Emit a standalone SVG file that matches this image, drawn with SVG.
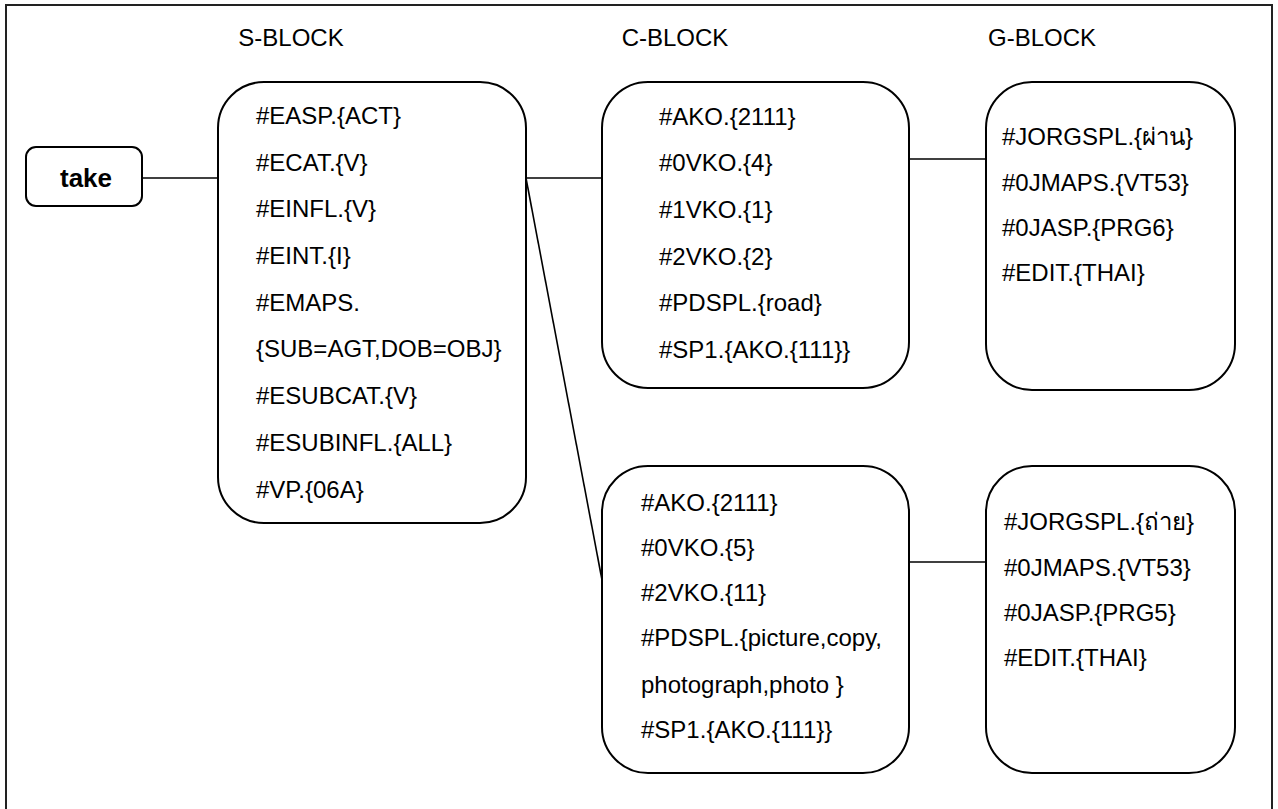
<svg xmlns="http://www.w3.org/2000/svg" width="1278" height="809" viewBox="0 0 1278 809">
<style>
  .frame{fill:#fff;stroke:#222;stroke-width:2}
  .box{fill:#fff;stroke:#000;stroke-width:2}
  .conn{stroke:#000;stroke-width:1.6;fill:none}
  text{font-family:"Liberation Sans",Arial,"Noto Sans","DejaVu Sans",sans-serif;font-size:24px;fill:#000}
  .bold{font-weight:bold;font-size:26px}
  .hdr{text-anchor:middle}
</style>
<rect class="frame" x="6" y="5" width="1266" height="830"/>
<g id="headers">
  <text class="hdr" x="291" y="46">S-BLOCK</text>
  <text class="hdr" x="675" y="46">C-BLOCK</text>
  <text class="hdr" x="1042" y="46">G-BLOCK</text>
</g>
<g id="connectors">
  <line class="conn" x1="142" y1="178" x2="218" y2="178"/>
  <line class="conn" x1="526" y1="178" x2="602" y2="178"/>
  <line class="conn" x1="526" y1="178" x2="602" y2="580"/>
  <line class="conn" x1="909" y1="159" x2="986" y2="159"/>
  <line class="conn" x1="909" y1="562" x2="986" y2="562"/>
</g>
<g id="take">
  <rect class="box" x="26" y="147" width="116" height="59" rx="10"/>
  <text class="bold" x="86" y="187" text-anchor="middle">take</text>
</g>
<g id="s-block">
  <rect class="box" x="218" y="82" width="308" height="441" rx="46"/>
  <text x="256" y="124">#EASP.{ACT}</text>
  <text x="256" y="171">#ECAT.{V}</text>
  <text x="256" y="217">#EINFL.{V}</text>
  <text x="256" y="264">#EINT.{I}</text>
  <text x="256" y="311">#EMAPS.</text>
  <text x="256" y="357">{SUB=AGT,DOB=OBJ}</text>
  <text x="256" y="404">#ESUBCAT.{V}</text>
  <text x="256" y="451">#ESUBINFL.{ALL}</text>
  <text x="256" y="498">#VP.{06A}</text>
</g>
<g id="c-block-1">
  <rect class="box" x="602" y="82" width="307" height="306" rx="46"/>
  <text x="659" y="125">#AKO.{2111}</text>
  <text x="659" y="171">#0VKO.{4}</text>
  <text x="659" y="218">#1VKO.{1}</text>
  <text x="659" y="265">#2VKO.{2}</text>
  <text x="659" y="311">#PDSPL.{road}</text>
  <text x="659" y="358">#SP1.{AKO.{111}}</text>
</g>
<g id="g-block-1">
  <rect class="box" x="986" y="82" width="249" height="308" rx="46"/>
  <text x="1002" y="145">#JORGSPL.{ผ่าน}</text>
  <text x="1002" y="191">#0JMAPS.{VT53}</text>
  <text x="1002" y="236">#0JASP.{PRG6}</text>
  <text x="1002" y="281">#EDIT.{THAI}</text>
</g>
<g id="c-block-2">
  <rect class="box" x="602" y="466" width="307" height="307" rx="46"/>
  <text x="641" y="511">#AKO.{2111}</text>
  <text x="641" y="556">#0VKO.{5}</text>
  <text x="641" y="601">#2VKO.{11}</text>
  <text x="641" y="646">#PDSPL.{picture,copy,</text>
  <text x="641" y="693">photograph,photo }</text>
  <text x="641" y="738">#SP1.{AKO.{111}}</text>
</g>
<g id="g-block-2">
  <rect class="box" x="986" y="466" width="249" height="307" rx="46"/>
  <text x="1004" y="530">#JORGSPL.{ถ่าย}</text>
  <text x="1004" y="576">#0JMAPS.{VT53}</text>
  <text x="1004" y="621">#0JASP.{PRG5}</text>
  <text x="1004" y="666">#EDIT.{THAI}</text>
</g>
</svg>
